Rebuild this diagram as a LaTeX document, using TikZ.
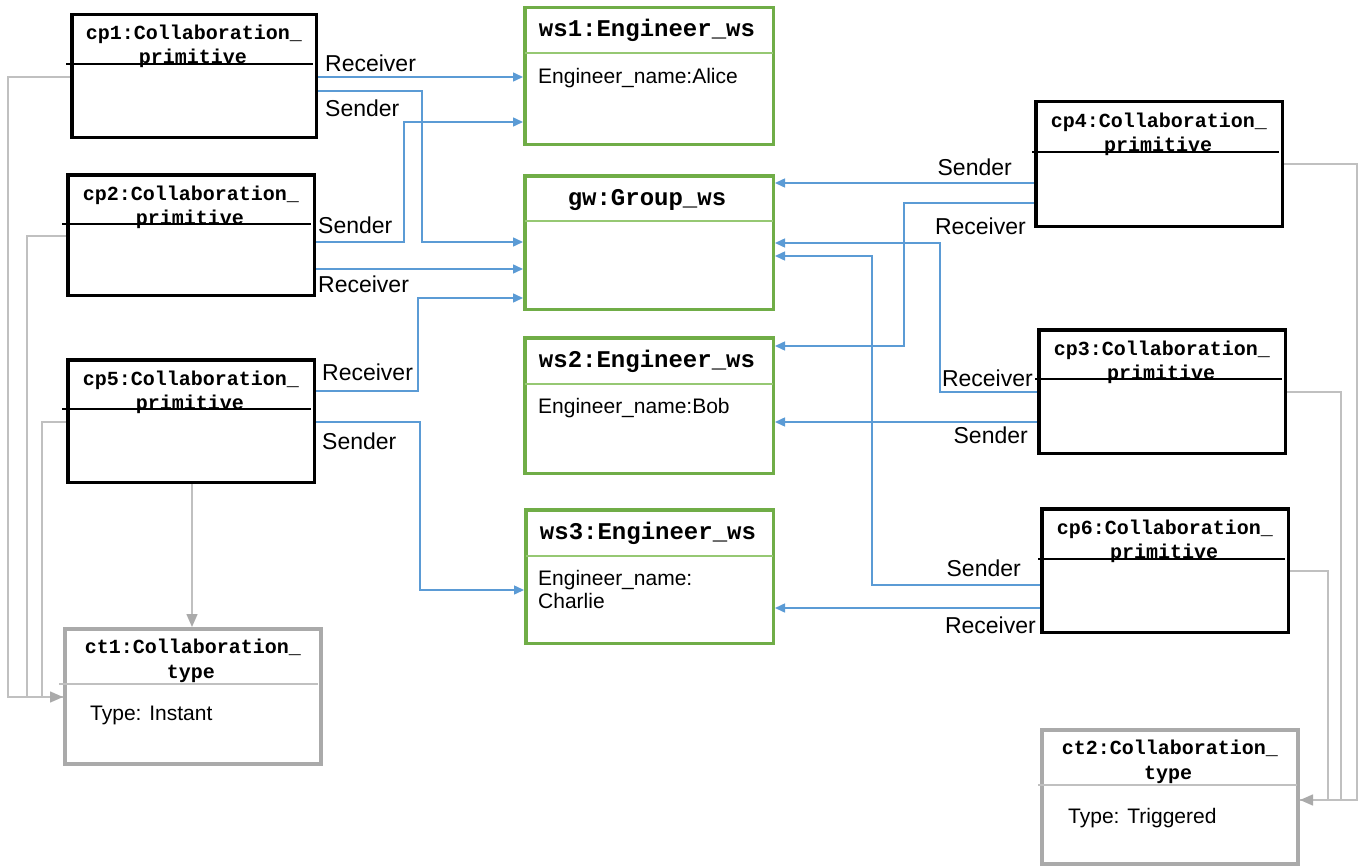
\documentclass[tikz,border=0pt]{standalone}
\usepackage{fontspec}
\setmainfont{Liberation Sans}
\newfontfamily\monof{Liberation Mono}
\usetikzlibrary{arrows.meta}
\definecolor{grn}{RGB}{112,173,71}
\definecolor{lgrn}{RGB}{150,200,115}
\definecolor{blu}{RGB}{91,155,213}
\definecolor{gry}{RGB}{170,170,170}
\definecolor{lgry}{RGB}{192,192,192}
\tikzset{
  cpbox/.style={draw=black, line width=3.5pt, inner sep=0pt},
  wsbox/.style={draw=grn, line width=3.5pt, inner sep=0pt},
  ctbox/.style={draw=gry, line width=4pt, inner sep=0pt},
  ttl/.style={font=\fontsize{20}{24}\selectfont\monof\bfseries, inner sep=0pt, anchor=base},
  wst/.style={font=\fontsize{24}{28}\selectfont\monof\bfseries, inner sep=0pt, anchor=base},
  txt/.style={font=\fontsize{21}{23}\selectfont, inner sep=0pt, anchor=base west},
  lbl/.style={font=\fontsize{23}{26}\selectfont, inner sep=0pt},
  sepk/.style={draw=black, line width=1.3pt},
  sepg/.style={draw=lgrn, line width=1.5pt},
  sepy/.style={draw=lgry, line width=1.5pt},
  blink/.style={draw=blu, line width=1.5pt, -{Triangle[length=10pt,width=9pt]}},
  gline/.style={draw=lgry, line width=1.5pt},
  glink/.style={draw=lgry, line width=1.5pt, -{Triangle[length=13pt,width=11pt,fill=gry,color=gry]}},
}
\begin{document}
\begin{tikzpicture}[x=1pt,y=-1pt]
\useasboundingbox (0,0) rectangle (1361,867);

% ---- boxes ----
\node[cpbox, minimum width=244.5pt, minimum height=122.5pt] (cp1) at (194,76) {};
\node[cpbox, minimum width=246.5pt, minimum height=120.5pt] (cp2) at (191,235) {};
\node[cpbox, minimum width=246.5pt, minimum height=122.5pt] (cp5) at (191,421) {};
\node[ctbox, minimum width=256pt, minimum height=135pt] (ct1) at (193,696.5) {};
\node[wsbox, minimum width=248.5pt, minimum height=136.5pt] (ws1) at (649,76) {};
\node[wsbox, minimum width=248.5pt, minimum height=133.5pt] (gw) at (649,242.5) {};
\node[wsbox, minimum width=248.5pt, minimum height=135.5pt] (ws2) at (649,405.5) {};
\node[wsbox, minimum width=247.5pt, minimum height=133.5pt] (ws3) at (649.5,576.5) {};
\node[cpbox, minimum width=246.5pt, minimum height=124.5pt] (cp4) at (1159,164) {};
\node[cpbox, minimum width=246.5pt, minimum height=123.5pt] (cp3) at (1162,391.5) {};
\node[cpbox, minimum width=246.5pt, minimum height=123.5pt] (cp6) at (1165,570.5) {};
\node[ctbox, minimum width=256pt, minimum height=134pt] (ct2) at (1170,797) {};

% ---- separators ----
\draw[sepk] (66,64) -- (313,64);
\draw[sepk] (62,224) -- (311,224);
\draw[sepk] (62,409) -- (311,409);
\draw[sepy] (59,684) -- (318,684);
\draw[sepg] (525,53) -- (773,53);
\draw[sepg] (525,221) -- (773,221);
\draw[sepg] (525,384) -- (773,384);
\draw[sepg] (526,556) -- (773,556);
\draw[sepk] (1032,152) -- (1279,152);
\draw[sepk] (1035,379) -- (1282,379);
\draw[sepk] (1038,559) -- (1285,559);
\draw[sepy] (1038,785) -- (1297,785);

% ---- titles ----
\node[ttl] (cp1a) at (194,40) {cp1:Collaboration\_};
\node[ttl] (cp1b) at (193,64) {primitive};
\node[ttl] (cp2a) at (191,200) {cp2:Collaboration\_};
\node[ttl] (cp2b) at (190,224) {primitive};
\node[ttl] (cp5a) at (191,385) {cp5:Collaboration\_};
\node[ttl] (cp5b) at (190,409) {primitive};
\node[ttl] (ct1a) at (193,653) {ct1:Collaboration\_};
\node[ttl] (ct1b) at (191,678) {type};
\node[ttl] (cp4a) at (1159,127) {cp4:Collaboration\_};
\node[ttl] (cp4b) at (1158,151) {primitive};
\node[ttl] (cp3a) at (1162,355) {cp3:Collaboration\_};
\node[ttl] (cp3b) at (1161,379) {primitive};
\node[ttl] (cp6a) at (1165,534) {cp6:Collaboration\_};
\node[ttl] (cp6b) at (1164,558) {primitive};
\node[ttl] (ct2a) at (1170,754) {ct2:Collaboration\_};
\node[ttl] (ct2b) at (1168,779) {type};
\node[wst] (ws1t) at (647,37) {ws1:Engineer\_ws};
\node[wst] (gwt) at (647,205) {gw:Group\_ws};
\node[wst] (ws2t) at (647,367) {ws2:Engineer\_ws};
\node[wst] (ws3t) at (648,539) {ws3:Engineer\_ws};

% ---- contents ----
\node[txt] (ws1c) at (538,84) {Engineer\_name:Alice};
\node[txt] (ws2c) at (538,413) {Engineer\_name:Bob};
\node[txt] (ws3c) at (538,585) {Engineer\_name:};
\node[txt] (ws3d) at (538,608) {Charlie};
\node[txt] (ct1c) at (90,720) {Type: Instant};
\node[txt] (ct2c) at (1068,823) {Type: Triggered};

% ---- gray connectors ----
\draw[gline] (cp2.west |- 0,236) -| (27,697) -- (ct1.west |- 0,697);
\draw[gline] (cp5.west |- 0,422) -| (42,697) -- (ct1.west |- 0,697);
\draw[glink] (cp1.west |- 0,77) -| (8,697) -- (ct1.west |- 0,697);
\draw[glink] (cp5.south -| 192,0) -- (ct1.north -| 192,0);
\draw[gline] (cp3.east |- 0,392) -| (1341,800) -- (ct2.east |- 0,800);
\draw[gline] (cp6.east |- 0,571) -| (1328,800) -- (ct2.east |- 0,800);
\draw[glink] (cp4.east |- 0,164) -| (1357,800) -- (ct2.east |- 0,800);

% ---- blue connectors ----
\draw[blink] (cp1.east |- 0,77) -- (ws1.west |- 0,77);
\draw[blink] (cp1.east |- 0,91) -| (422,242) -- (gw.west |- 0,242);
\draw[blink] (cp2.east |- 0,242) -| (404,122) -- (ws1.west |- 0,122);
\draw[blink] (cp2.east |- 0,269) -- (gw.west |- 0,269);
\draw[blink] (cp5.east |- 0,391) -| (418,298) -- (gw.west |- 0,298);
\draw[blink] (cp5.east |- 0,422) -| (420,590) -- (ws3.west |- 0,590);
\draw[blink] (cp4.west |- 0,183) -- (gw.east |- 0,183);
\draw[blink] (cp4.west |- 0,203) -| (904,346) -- (ws2.east |- 0,346);
\draw[blink] (cp3.west |- 0,392) -| (940,243) -- (gw.east |- 0,243);
\draw[blink] (cp3.west |- 0,422) -- (ws2.east |- 0,422);
\draw[blink] (cp6.west |- 0,585) -| (872,256) -- (gw.east |- 0,256);
\draw[blink] (cp6.west |- 0,608) -- (ws3.east |- 0,608);

% ---- labels ----
\node[lbl, anchor=base west] (l1) at (325,71) {Receiver};
\node[lbl, anchor=base west] (l2) at (325,117) {Sender};
\node[lbl, anchor=base west] (l3) at (318,233) {Sender};
\node[lbl, anchor=base west] (l4) at (318,292) {Receiver};
\node[lbl, anchor=base west] (l5) at (322,380) {Receiver};
\node[lbl, anchor=base west] (l6) at (322,449) {Sender};
\node[lbl, anchor=base east] (l7) at (1012,175) {Sender};
\node[lbl, anchor=base east] (l8) at (1026,234) {Receiver};
\node[lbl, anchor=base east] (l9) at (1033,386) {Receiver};
\node[lbl, anchor=base east] (l10) at (1028,443) {Sender};
\node[lbl, anchor=base east] (l11) at (1021,576) {Sender};
\node[lbl, anchor=base east] (l12) at (1036,633) {Receiver};
\end{tikzpicture}
\end{document}
